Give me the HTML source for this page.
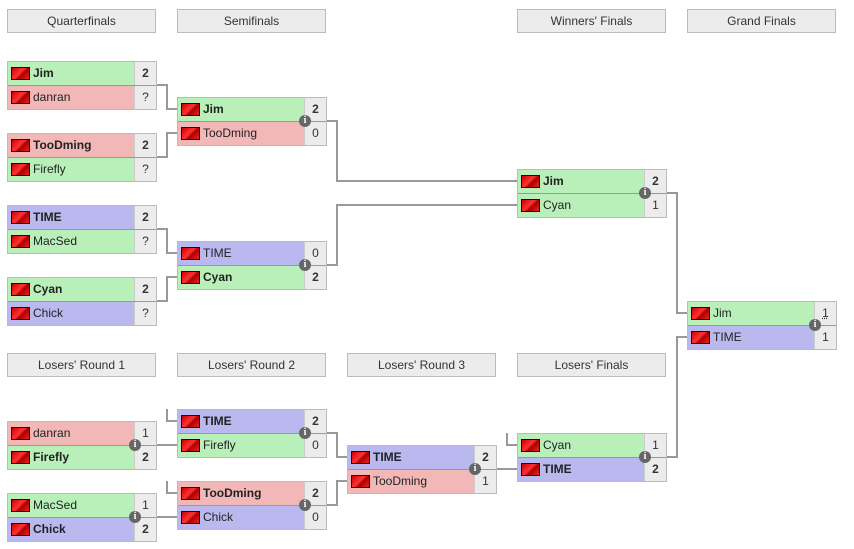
<!DOCTYPE html>
<html><head><style>
body{margin:0;width:854px;height:549px;background:#fff;position:relative;font-family:"Liberation Sans",sans-serif;font-size:12px;overflow:hidden}
.h{position:absolute;width:147px;height:22px;border:1px solid #bbb;background:#ececec;color:#333;text-align:center;line-height:22px;font-size:12px}
.m{position:absolute;width:148px;height:47px;border:1px solid #bbb}
.r{position:relative;height:23px;line-height:23px;border-bottom:1px solid #999}
.r:last-child{border-bottom:none;height:23px;line-height:23px}
.g{background:#b9f0b9}.p{background:#f2b8b8}.b{background:#b9b9f0}
.f{position:absolute;left:3px;top:5px;width:17px;height:11px;border:1px solid #300;background:linear-gradient(135deg,#c00 0%,#f33 45%,#a00 60%,#e22 100%)}
.n{position:absolute;left:25px;top:0;color:#222}
.s{position:absolute;right:0;top:0;width:21px;height:100%;background:#ececec;border-left:1px solid #ccc;text-align:center;color:#333}
.w{font-weight:bold}
.i{position:absolute;width:12px;height:12px;border-radius:50%;background:#666;color:#fff;font-size:10px;line-height:12px;text-align:center;font-weight:bold;z-index:3;font-family:"Liberation Serif",serif}
svg{position:absolute;left:0;top:0}
</style></head><body>
<svg width="854" height="549"><g fill="none" stroke="#999" stroke-width="2">
<path d="M134 85H167V109H177"/>
<path d="M134 157H167V133H177"/>
<path d="M134 229H167V253H177"/>
<path d="M134 301H167V277H177"/>
<path d="M304 121H337V181H517"/>
<path d="M304 265H337V205H517"/>
<path d="M644 193H677V313H687"/>
<path d="M644 457H677V337H687"/>
<path d="M134 445H177"/>
<path d="M134 517H177"/>
<path d="M167 409V421H177"/>
<path d="M167 481V493H177"/>
<path d="M304 433H337V457H347"/>
<path d="M304 505H337V481H347"/>
<path d="M474 469H517"/>
<path d="M507 433V445H517"/>
</g></svg>
<div class="h" style="left:7px;top:9px">Quarterfinals</div>
<div class="h" style="left:177px;top:9px">Semifinals</div>
<div class="h" style="left:517px;top:9px">Winners' Finals</div>
<div class="h" style="left:687px;top:9px">Grand Finals</div>
<div class="h" style="left:7px;top:353px">Losers' Round 1</div>
<div class="h" style="left:177px;top:353px">Losers' Round 2</div>
<div class="h" style="left:347px;top:353px">Losers' Round 3</div>
<div class="h" style="left:517px;top:353px">Losers' Finals</div>

<div class="m" style="left:7px;top:61px"><div class="r g"><span class="f"></span><span class="n w">Jim</span><span class="s w">2</span></div><div class="r p"><span class="f"></span><span class="n">danran</span><span class="s">?</span></div></div>
<div class="m" style="left:7px;top:133px"><div class="r p"><span class="f"></span><span class="n w">TooDming</span><span class="s w">2</span></div><div class="r g"><span class="f"></span><span class="n">Firefly</span><span class="s">?</span></div></div>
<div class="m" style="left:7px;top:205px"><div class="r b"><span class="f"></span><span class="n w">TIME</span><span class="s w">2</span></div><div class="r g"><span class="f"></span><span class="n">MacSed</span><span class="s">?</span></div></div>
<div class="m" style="left:7px;top:277px"><div class="r g"><span class="f"></span><span class="n w">Cyan</span><span class="s w">2</span></div><div class="r b"><span class="f"></span><span class="n">Chick</span><span class="s">?</span></div></div>

<div class="m" style="left:177px;top:97px"><div class="r g"><span class="f"></span><span class="n w">Jim</span><span class="s w">2</span></div><div class="r p"><span class="f"></span><span class="n">TooDming</span><span class="s">0</span></div></div>
<div class="m" style="left:177px;top:241px"><div class="r b"><span class="f"></span><span class="n">TIME</span><span class="s">0</span></div><div class="r g"><span class="f"></span><span class="n w">Cyan</span><span class="s w">2</span></div></div>

<div class="m" style="left:517px;top:169px"><div class="r g"><span class="f"></span><span class="n w">Jim</span><span class="s w">2</span></div><div class="r g"><span class="f"></span><span class="n">Cyan</span><span class="s">1</span></div></div>
<div class="m" style="left:687px;top:301px"><div class="r g"><span class="f"></span><span class="n">Jim</span><span class="s" style="text-decoration:underline dotted">1</span></div><div class="r b"><span class="f"></span><span class="n">TIME</span><span class="s">1</span></div></div>

<div class="m" style="left:7px;top:421px"><div class="r p"><span class="f"></span><span class="n">danran</span><span class="s">1</span></div><div class="r g"><span class="f"></span><span class="n w">Firefly</span><span class="s w">2</span></div></div>
<div class="m" style="left:7px;top:493px"><div class="r g"><span class="f"></span><span class="n">MacSed</span><span class="s">1</span></div><div class="r b"><span class="f"></span><span class="n w">Chick</span><span class="s w">2</span></div></div>
<div class="m" style="left:177px;top:409px"><div class="r b"><span class="f"></span><span class="n w">TIME</span><span class="s w">2</span></div><div class="r g"><span class="f"></span><span class="n">Firefly</span><span class="s">0</span></div></div>
<div class="m" style="left:177px;top:481px"><div class="r p"><span class="f"></span><span class="n w">TooDming</span><span class="s w">2</span></div><div class="r b"><span class="f"></span><span class="n">Chick</span><span class="s">0</span></div></div>
<div class="m" style="left:347px;top:445px"><div class="r b"><span class="f"></span><span class="n w">TIME</span><span class="s w">2</span></div><div class="r p"><span class="f"></span><span class="n">TooDming</span><span class="s">1</span></div></div>
<div class="m" style="left:517px;top:433px"><div class="r g"><span class="f"></span><span class="n">Cyan</span><span class="s">1</span></div><div class="r b"><span class="f"></span><span class="n w">TIME</span><span class="s w">2</span></div></div>

<div class="i" style="left:299px;top:115px">i</div>
<div class="i" style="left:299px;top:259px">i</div>
<div class="i" style="left:639px;top:187px">i</div>
<div class="i" style="left:809px;top:319px">i</div>
<div class="i" style="left:129px;top:439px">i</div>
<div class="i" style="left:129px;top:511px">i</div>
<div class="i" style="left:299px;top:427px">i</div>
<div class="i" style="left:299px;top:499px">i</div>
<div class="i" style="left:469px;top:463px">i</div>
<div class="i" style="left:639px;top:451px">i</div>
</body></html>
